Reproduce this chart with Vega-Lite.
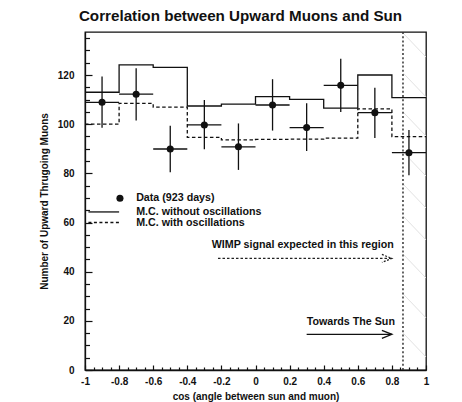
{
  "$schema": "https://vega.github.io/schema/vega-lite/v6.json",
  "width": 341,
  "height": 338,
  "autosize": {"type": "none"},
  "padding": {"left": 85, "top": 32, "right": 36, "bottom": 32},
  "background": "white",
  "title": {
    "text": "Correlation between Upward Muons and Sun",
    "font": "Liberation Sans",
    "fontSize": 15.2,
    "fontWeight": "bold",
    "color": "#111111",
    "anchor": "middle",
    "dx": -15,
    "offset": 7
  },
  "resolve": {"axis": {"x": "independent", "y": "independent"}},
  "config": {
    "view": {"stroke": "#111111", "strokeWidth": 1.3},
    "font": "Liberation Sans",
    "axis": {
      "labelFont": "Liberation Sans",
      "labelFontSize": 10,
      "labelFontWeight": "bold",
      "labelColor": "#111111",
      "labelFlush": false,
      "labelOverlap": false,
      "titleFont": "Liberation Sans",
      "titleFontSize": 10,
      "titleFontWeight": "bold",
      "titleColor": "#111111",
      "ticks": true,
      "tickColor": "#111111",
      "tickWidth": 1.2,
      "grid": false,
      "domainColor": "#111111",
      "domainWidth": 1.3
    },
    "text": {"font": "Liberation Sans", "fontWeight": "bold", "fontSize": 10.7, "color": "#111111", "align": "left", "baseline": "middle"}
  },
  "datasets": {
    "bins": [
      {"cos": -0.9, "lo": -1.0, "hi": -0.8, "muons": 108.9, "errLo": 98.5, "errHi": 119.4},
      {"cos": -0.7, "lo": -0.8, "hi": -0.6, "muons": 112.2, "errLo": 101.5, "errHi": 122.8},
      {"cos": -0.5, "lo": -0.6, "hi": -0.4, "muons": 89.9, "errLo": 80.4, "errHi": 99.4},
      {"cos": -0.3, "lo": -0.4, "hi": -0.2, "muons": 99.7, "errLo": 89.8, "errHi": 109.8},
      {"cos": -0.1, "lo": -0.2, "hi": 0.0, "muons": 90.8, "errLo": 81.4, "errHi": 100.3},
      {"cos": 0.1, "lo": 0.0, "hi": 0.2, "muons": 107.8, "errLo": 97.4, "errHi": 118.3},
      {"cos": 0.3, "lo": 0.2, "hi": 0.4, "muons": 98.6, "errLo": 89.1, "errHi": 108.5},
      {"cos": 0.5, "lo": 0.4, "hi": 0.6, "muons": 115.8, "errLo": 105.0, "errHi": 126.6},
      {"cos": 0.7, "lo": 0.6, "hi": 0.8, "muons": 104.7, "errLo": 94.4, "errHi": 114.8},
      {"cos": 0.9, "lo": 0.8, "hi": 1.0, "muons": 88.4, "errLo": 79.2, "errHi": 97.6}
    ],
    "mc": [
      {"edge": -1.0, "noOsc": 113.0, "osc": 100.0},
      {"edge": -0.8, "noOsc": 124.1, "osc": 108.5},
      {"edge": -0.6, "noOsc": 123.1, "osc": 106.9},
      {"edge": -0.4, "noOsc": 107.4, "osc": 94.6},
      {"edge": -0.2, "noOsc": 108.2, "osc": 93.6},
      {"edge": 0.0, "noOsc": 111.2, "osc": 93.8},
      {"edge": 0.2, "noOsc": 110.1, "osc": 93.9},
      {"edge": 0.4, "noOsc": 106.5, "osc": 94.3},
      {"edge": 0.6, "noOsc": 120.0, "osc": 106.2},
      {"edge": 0.8, "noOsc": 110.8, "osc": 94.9},
      {"edge": 1.0, "noOsc": 110.8, "osc": 94.9}
    ]
  },
  "layer": [
    {
      "data": {"name": "mc"},
      "mark": {"type": "line", "interpolate": "step-after", "color": "#111111", "strokeWidth": 1.3},
      "encoding": {
        "x": {
          "field": "edge",
          "type": "quantitative",
          "scale": {"domain": [-1, 1], "nice": false, "zero": false},
          "axis": {
            "orient": "bottom",
            "title": "cos (angle between sun and muon)",
            "titlePadding": 5,
            "values": [-1, -0.8, -0.6, -0.4, -0.2, 0, 0.2, 0.4, 0.6, 0.8, 1],
            "labelExpr": "'' + datum.value",
            "tickSize": -5,
            "labelPadding": 11
          }
        },
        "y": {
          "field": "noOsc",
          "type": "quantitative",
          "scale": {"domain": [0, 137.5], "nice": false, "zero": true},
          "axis": {
            "orient": "left",
            "title": "Number of Upward Thrugoing Muons",
            "titlePadding": 8,
            "values": [0, 20, 40, 60, 80, 100, 120],
            "tickSize": -7,
            "labelPadding": 18
          }
        }
      }
    },
    {
      "data": {"name": "mc"},
      "mark": {"type": "line", "interpolate": "step-after", "color": "#111111", "strokeWidth": 1.3, "strokeDash": [3.5, 2.5]},
      "encoding": {
        "x": {
          "field": "edge",
          "type": "quantitative",
          "axis": {
            "orient": "bottom",
            "title": null,
            "labels": false,
            "domain": false,
            "values": [-0.95, -0.9, -0.85, -0.75, -0.7, -0.65, -0.55, -0.5, -0.45, -0.35, -0.3, -0.25, -0.15, -0.1, -0.05, 0.05, 0.1, 0.15, 0.25, 0.3, 0.35, 0.45, 0.5, 0.55, 0.65, 0.7, 0.75, 0.85, 0.9, 0.95],
            "tickSize": -3
          }
        },
        "y": {
          "field": "osc",
          "type": "quantitative",
          "axis": {
            "orient": "left",
            "title": null,
            "labels": false,
            "domain": false,
            "values": [5, 10, 15, 25, 30, 35, 45, 50, 55, 65, 70, 75, 85, 90, 95, 105, 110, 115, 125, 130, 135],
            "tickSize": -4.5
          }
        }
      }
    },
    {
      "data": {"values": [{}]},
      "layer": [
        {"mark": {"type": "rule", "color": "#e2e2e2", "strokeWidth": 1}, "encoding": {"x": {"datum": 0.865, "axis": null}, "x2": {"datum": 1.0}, "y": {"datum": 137.1, "axis": null}, "y2": {"datum": 127.3}}},
        {"mark": {"type": "rule", "color": "#e2e2e2", "strokeWidth": 1}, "encoding": {"x": {"datum": 0.865, "axis": null}, "x2": {"datum": 1.0}, "y": {"datum": 120.9, "axis": null}, "y2": {"datum": 111.1}}},
        {"mark": {"type": "rule", "color": "#e2e2e2", "strokeWidth": 1}, "encoding": {"x": {"datum": 0.865, "axis": null}, "x2": {"datum": 1.0}, "y": {"datum": 105.0, "axis": null}, "y2": {"datum": 95.2}}},
        {"mark": {"type": "rule", "color": "#e2e2e2", "strokeWidth": 1}, "encoding": {"x": {"datum": 0.865, "axis": null}, "x2": {"datum": 1.0}, "y": {"datum": 88.7, "axis": null}, "y2": {"datum": 78.9}}},
        {"mark": {"type": "rule", "color": "#e2e2e2", "strokeWidth": 1}, "encoding": {"x": {"datum": 0.865, "axis": null}, "x2": {"datum": 1.0}, "y": {"datum": 75.7, "axis": null}, "y2": {"datum": 65.9}}},
        {"mark": {"type": "rule", "color": "#e2e2e2", "strokeWidth": 1}, "encoding": {"x": {"datum": 0.865, "axis": null}, "x2": {"datum": 1.0}, "y": {"datum": 62.7, "axis": null}, "y2": {"datum": 52.9}}},
        {"mark": {"type": "rule", "color": "#e2e2e2", "strokeWidth": 1}, "encoding": {"x": {"datum": 0.865, "axis": null}, "x2": {"datum": 1.0}, "y": {"datum": 47.2, "axis": null}, "y2": {"datum": 37.4}}},
        {"mark": {"type": "rule", "color": "#e2e2e2", "strokeWidth": 1}, "encoding": {"x": {"datum": 0.865, "axis": null}, "x2": {"datum": 1.0}, "y": {"datum": 31.0, "axis": null}, "y2": {"datum": 21.2}}},
        {"mark": {"type": "rule", "color": "#e2e2e2", "strokeWidth": 1}, "encoding": {"x": {"datum": 0.865, "axis": null}, "x2": {"datum": 1.0}, "y": {"datum": 15.1, "axis": null}, "y2": {"datum": 5.3}}},
        {"mark": {"type": "rule", "color": "#333333", "strokeWidth": 1.5, "strokeDash": [2, 2.2]}, "encoding": {"x": {"datum": 0.865, "axis": null}, "y": {"datum": 0, "axis": null}, "y2": {"datum": 137.5}}},
        {"mark": {"type": "point", "filled": true, "color": "#111111", "size": 50, "opacity": 1}, "encoding": {"x": {"datum": -0.795, "axis": null}, "y": {"datum": 69.9, "axis": null}}},
        {"mark": {"type": "rule", "color": "#111111", "strokeWidth": 1.3}, "encoding": {"x": {"datum": -0.98, "axis": null}, "x2": {"datum": -0.8}, "y": {"datum": 64.3, "axis": null}}},
        {"mark": {"type": "rule", "color": "#111111", "strokeWidth": 1.3, "strokeDash": [3, 2.5]}, "encoding": {"x": {"datum": -0.98, "axis": null}, "x2": {"datum": -0.8}, "y": {"datum": 60.0, "axis": null}}},
        {"mark": {"type": "text", "text": "Data (923 days)"}, "encoding": {"x": {"datum": -0.7, "axis": null}, "y": {"datum": 70.0, "axis": null}}},
        {"mark": {"type": "text", "text": "M.C. without oscillations"}, "encoding": {"x": {"datum": -0.7, "axis": null}, "y": {"datum": 64.3, "axis": null}}},
        {"mark": {"type": "text", "text": "M.C. with oscillations"}, "encoding": {"x": {"datum": -0.7, "axis": null}, "y": {"datum": 59.8, "axis": null}}},
        {"mark": {"type": "text", "text": "WIMP signal expected in this region"}, "encoding": {"x": {"datum": -0.257, "axis": null}, "y": {"datum": 51.0, "axis": null}}},
        {"mark": {"type": "rule", "color": "#222222", "strokeWidth": 1.2, "strokeDash": [2.5, 2]}, "encoding": {"x": {"datum": -0.22, "axis": null}, "x2": {"datum": 0.8}, "y": {"datum": 45.4, "axis": null}}},
        {"mark": {"type": "point", "shape": "M-2.5,-1L0,0L-2.5,1", "filled": false, "color": "#222222", "strokeWidth": 1.2, "strokeDash": [2, 1.5], "size": 64, "opacity": 1}, "encoding": {"x": {"datum": 0.8, "axis": null}, "y": {"datum": 45.4, "axis": null}}},
        {"mark": {"type": "text", "text": "Towards The Sun"}, "encoding": {"x": {"datum": 0.3, "axis": null}, "y": {"datum": 19.6, "axis": null}}},
        {"mark": {"type": "rule", "color": "#111111", "strokeWidth": 1.3}, "encoding": {"x": {"datum": 0.3, "axis": null}, "x2": {"datum": 0.8}, "y": {"datum": 14.5, "axis": null}}},
        {"mark": {"type": "point", "shape": "M-2.5,-1L0,0L-2.5,1", "filled": false, "color": "#111111", "strokeWidth": 1.3, "size": 64, "opacity": 1}, "encoding": {"x": {"datum": 0.8, "axis": null}, "y": {"datum": 14.5, "axis": null}}}
      ]
    },
    {
      "data": {"name": "bins"},
      "mark": {"type": "rule", "color": "#111111", "strokeWidth": 1.3},
      "encoding": {
        "x": {"field": "cos", "type": "quantitative", "axis": null},
        "y": {"field": "errLo", "type": "quantitative", "axis": null},
        "y2": {"field": "errHi"}
      }
    },
    {
      "data": {"name": "bins"},
      "mark": {"type": "rule", "color": "#111111", "strokeWidth": 1.3},
      "encoding": {
        "x": {"field": "lo", "type": "quantitative", "axis": null},
        "x2": {"field": "hi"},
        "y": {"field": "muons", "type": "quantitative", "axis": null}
      }
    },
    {
      "data": {"name": "bins"},
      "mark": {"type": "point", "filled": true, "color": "#111111", "size": 50, "opacity": 1},
      "encoding": {
        "x": {"field": "cos", "type": "quantitative", "axis": null},
        "y": {"field": "muons", "type": "quantitative", "axis": null}
      }
    }
  ]
}
